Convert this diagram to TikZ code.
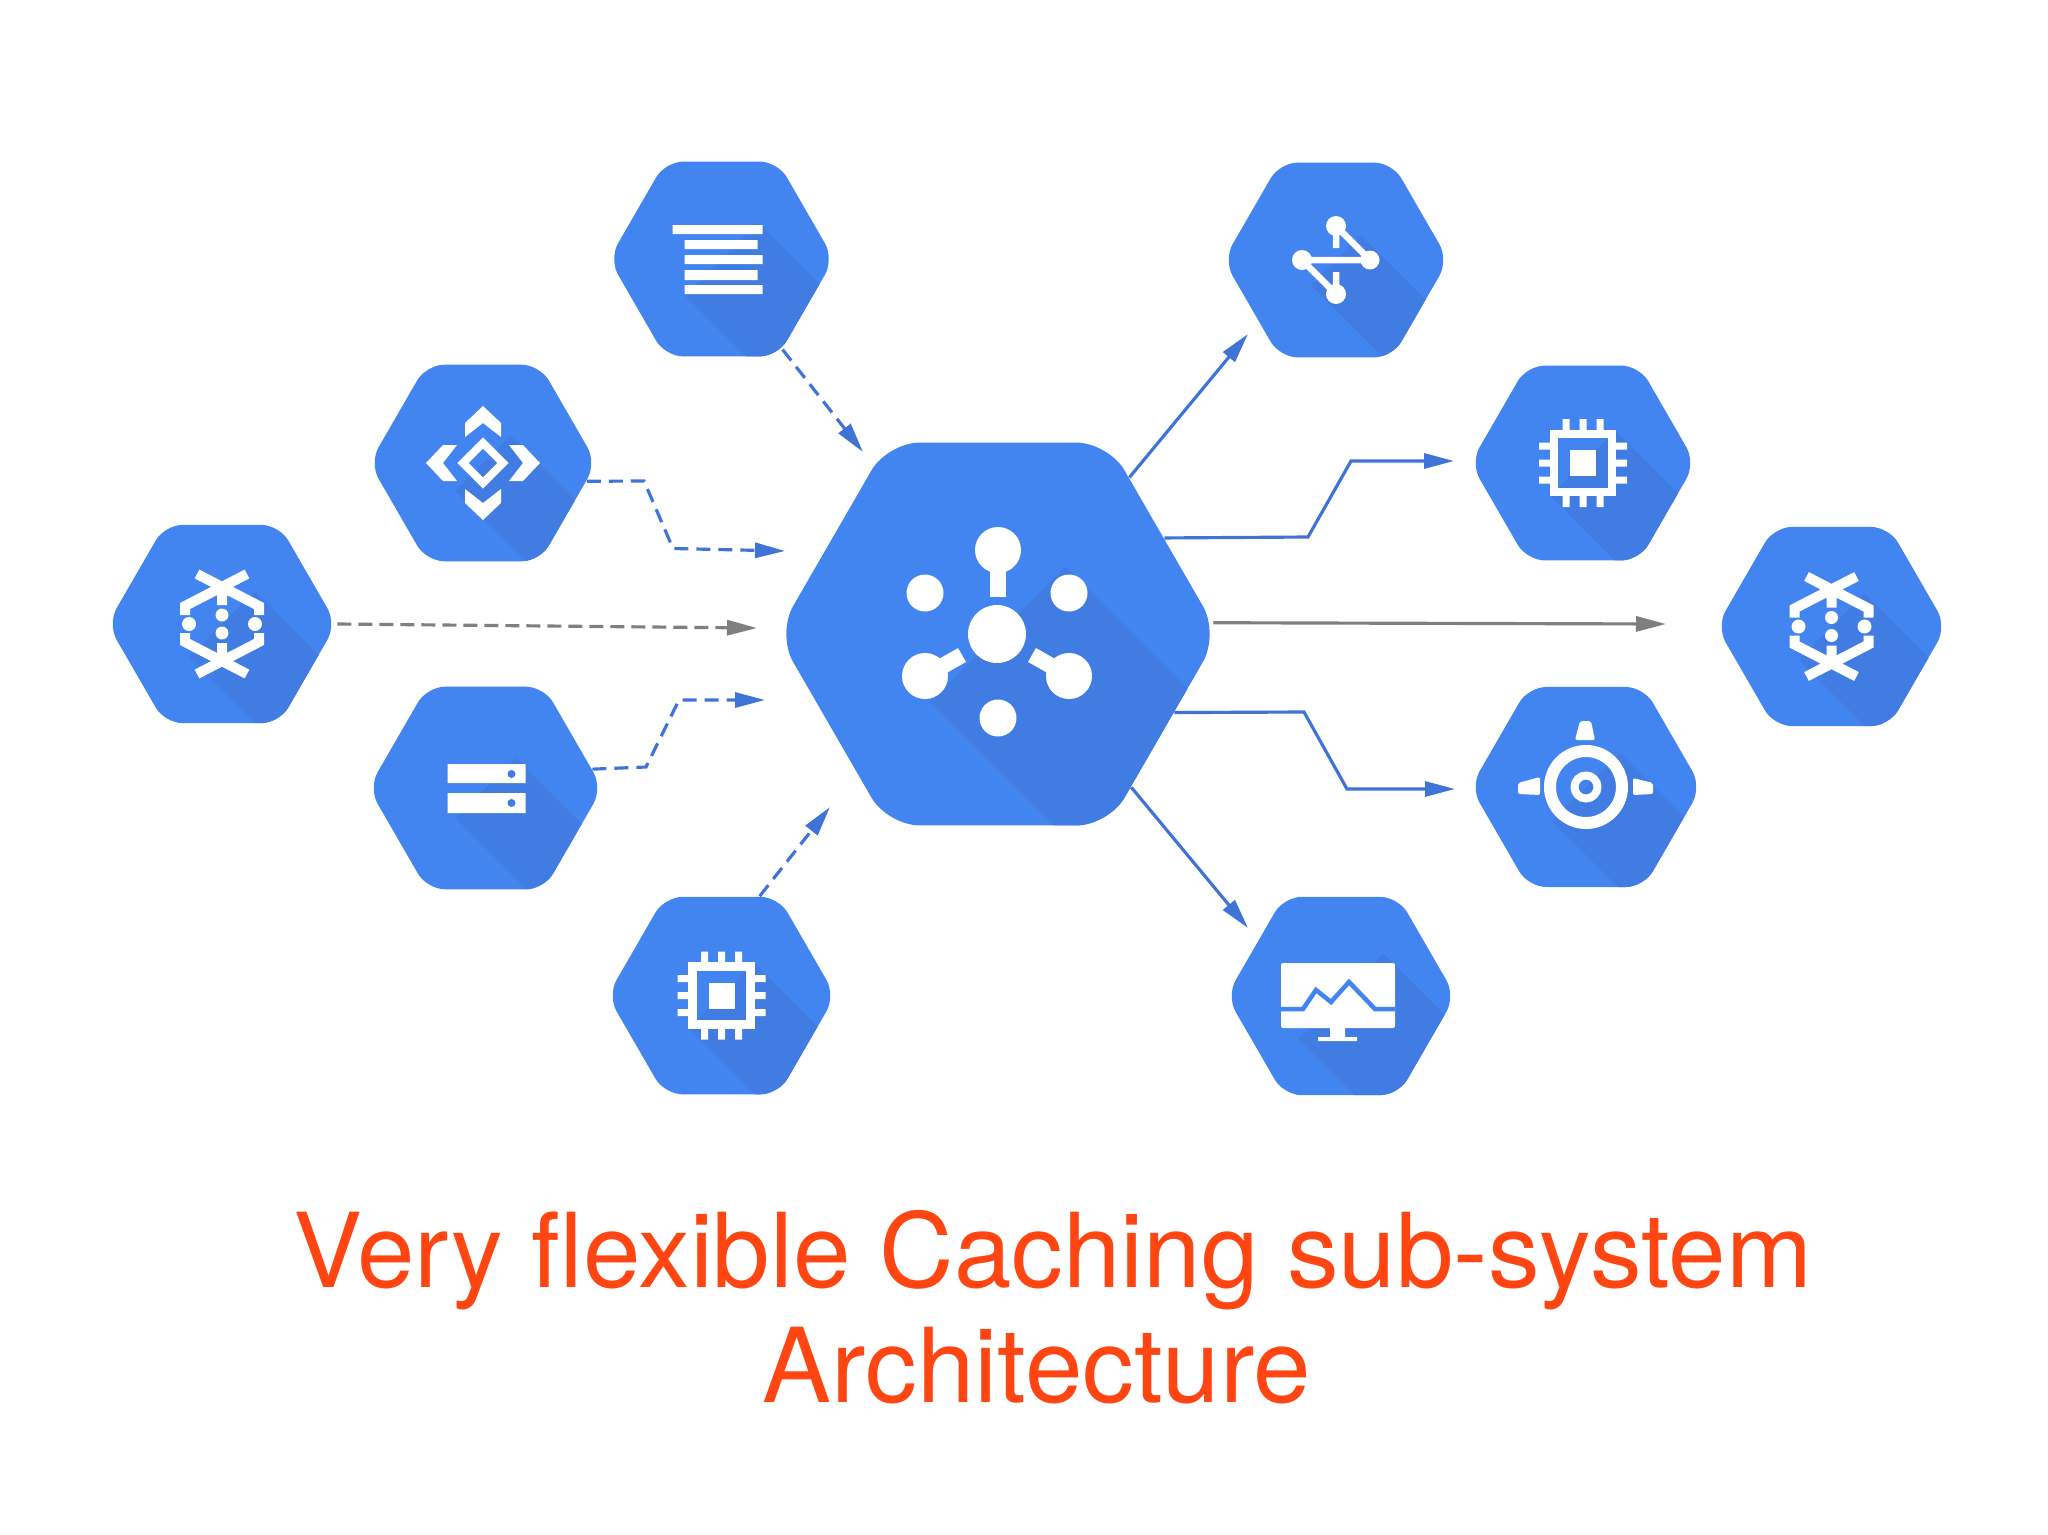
\documentclass[tikz,border=0pt]{standalone}
\usepackage{fontspec}
\setmainfont{TeX Gyre Heros}
\usepackage{xcolor}
\usetikzlibrary{arrows.meta, positioning, shapes.geometric}
\definecolor{hexblue}{HTML}{4285F0}
\definecolor{hexdark}{HTML}{407CE2}
\definecolor{flowblue}{HTML}{3F74D6}
\definecolor{flowgrey}{HTML}{7F7F7F}
\definecolor{capred}{HTML}{FF4511}

\tikzset{
    hexnode/.style 2 args={regular polygon, regular polygon sides=6, minimum size=#1,
        inner sep=0pt, fill=hexblue, rounded corners=.18cm,
        path picture={\fill[hexdark, sharp corners, shift={(path picture bounding box.center)}]
            ({#2/2},{#2/2}) -- ++(6,-6) -- ++(-#2,-#2) -- ++(-6,6) -- cycle;}},
    hubnode/.style={hexnode={4.42cm}{1.35}, rounded corners=.32cm},
    flow/.style={-{Triangle[length=.3cm,width=.15cm]}, line width=.9pt, flowblue},
    flowdash/.style={flow, dash pattern=on .14cm off .08cm},
    flowgray/.style={flow, flowgrey},
    caption/.style={text=capred, font=\fontsize{29.4}{33}\selectfont, anchor=base, inner sep=0pt},
    hubicon/.pic={
        \fill[white] (-.01,0) circle (.29) (0,.84) circle (.23) (-.73,.41) circle (.185)
            (.71,.41) circle (.185) (-.73,-.42) circle (.23) (.71,-.42) circle (.23) (0,-.84) circle (.185);
        \fill[white] (-.08,.37) rectangle (.08,.7);
        \draw[white, line width=.16cm] (-.73,-.42) -- (-.36,-.21) (.71,-.42) -- (.34,-.21);
    },
    rowsicon/.pic={
        \fill[white] (-.49,.34) rectangle (.41,.25) (-.37,.19) rectangle (.36,.10)
            (-.37,.04) rectangle (.41,-.05) (-.37,-.11) rectangle (.36,-.21) (-.37,-.26) rectangle (.41,-.35);
    },
    diamondicon/.pic={
        \draw[white, line width=.08cm] (.2,0) -- (0,.2) -- (-.2,0) -- (0,-.2) -- cycle;
        \foreach \a in {0,90,180,270}
            \fill[white, rotate=\a] (0,.57) -- (.18,.40) -- (.18,.26) -- (0,.40) -- (-.18,.26) -- (-.18,.40) -- cycle;
    },
    dataicon/.pic={
        \foreach \s in {1,-1} {
            \draw[white, line width=.1cm, yscale=\s] (-.25,.50) -- (.37,.18) -- (.37,.09)
                (.25,.50) -- (-.37,.18) -- (-.37,.09) (0,.37) -- (0,.19);
            \fill[white] (0,.09*\s) circle (.065);
        }
        \fill[white] (-.33,0) circle (.07) (.33,0) circle (.07);
    },
    rackicon/.pic={
        \fill[white] (-.38,.24) rectangle (.40,.05) (-.38,-.05) rectangle (.40,-.25);
        \fill[hexdark] (.26,.14) circle (.04) (.26,-.15) circle (.04);
    },
    chipicon/.pic={
        \foreach \a in {0,90,180,270} {
            \fill[white, rotate=\a] (-.205,.3) rectangle (-.135,.44) (-.035,.3) rectangle (.035,.44)
                (.135,.3) rectangle (.205,.44);
        }
        \draw[white, line width=.085cm] (-.29,-.29) rectangle (.29,.29);
        \fill[white] (-.13,-.13) rectangle (.13,.13);
    },
    meshicon/.pic={
        \draw[white, line width=.065cm] (-.34,0) -- (.34,0) -- (0,.34) -- (0,.12)
            (-.34,0) -- (0,-.34) -- (0,-.12);
        \fill[white] (0,.34) circle (.10) (-.34,0) circle (.10) (.34,0) circle (.095) (0,-.34) circle (.10);
    },
    engineicon/.pic={
        \draw[white, line width=.12cm] (0,0) circle (.36);
        \draw[white, line width=.08cm] (0,0) circle (.115);
        \fill[white, rounded corners=.02cm] (-.11,.47) -- (.09,.47) -- (.05,.66) -- (-.06,.66) -- cycle
            (-.46,.10) -- (-.46,-.08) -- (-.68,-.07) -- (-.68,.04) -- cycle
            (.47,.09) -- (.47,-.08) -- (.67,-.07) -- (.67,.04) -- cycle;
    },
    screenicon/.pic={
        \fill[white, rounded corners=.02cm] (-.60,.33) rectangle (.54,-.32);
        \draw[hexblue, line width=.045cm] (-.60,-.13) -- (-.38,-.13) -- (-.25,.06) -- (-.10,-.06)
            -- (.08,.14) -- (.34,-.13) -- (.54,-.13);
        \fill[white] (-.11,-.32) rectangle (.04,-.41) (-.23,-.41) rectangle (.16,-.45);
    },
}

\begin{document}
\begin{tikzpicture}[on grid, >=Stealth]
        \useasboundingbox (0,0) rectangle (20.48,-15.35);

        \node[hubnode]                  (hub)     at (9.98,-6.34)                       {};
        \node[hexnode={2.25cm}{.73}]    (rows)    [above left=3.75cm and 2.765cm of hub]   {};
        \node[hexnode={2.27cm}{.55}]    (diamond) [above left=1.71cm and 5.15cm of hub]    {};
        \node[hexnode={2.29cm}{.66}]    (dataL)   [above left=.10cm and 7.76cm of hub]     {};
        \node[hexnode={2.34cm}{.60}]    (rack)    [below left=1.54cm and 5.125cm of hub]   {};
        \node[hexnode={2.28cm}{.65}]    (chipL)   [below left=3.616cm and 2.765cm of hub]  {};
        \node[hexnode={2.25cm}{.50}]    (mesh)    [above right=3.74cm and 3.38cm of hub]   {};
        \node[hexnode={2.25cm}{.65}]    (chipR)   [above right=1.71cm and 5.85cm of hub]   {};
        \node[hexnode={2.30cm}{.66}]    (dataR)   [above right=.075cm and 8.335cm of hub]  {};
        \node[hexnode={2.31cm}{.68}]    (engine)  [below right=1.53cm and 5.88cm of hub]   {};
        \node[hexnode={2.29cm}{.85}]    (screen)  [below right=3.62cm and 3.43cm of hub]   {};

        % glyphs
        \pic at (hub)     {hubicon};
        \pic at (rows)    {rowsicon};
        \pic at (diamond) {diamondicon};
        \pic at (dataL)   {dataicon};
        \pic at (rack)    {rackicon};
        \pic at (chipL)   {chipicon};
        \pic at (mesh)    {meshicon};
        \pic at (chipR)   {chipicon};
        \pic at (dataR)   {dataicon};
        \pic at (engine)  {engineicon};
        \pic at (screen)  {screenicon};

        % free ends of the connectors
        \coordinate (in_rows)    at (8.63,-4.52);
        \coordinate (in_diamond) at (7.85,-5.51);
        \coordinate (in_data)    at (7.57,-6.28);
        \coordinate (in_rack)    at (7.65,-7.00);
        \coordinate (in_chip)    at (8.30,-8.07);
        \coordinate (out_mesh)   at (12.48,-3.34);
        \coordinate (out_chip)   at (14.54,-4.61);
        \coordinate (out_data)   at (16.66,-6.24);
        \coordinate (out_engine) at (14.55,-7.89);
        \coordinate (out_screen) at (12.48,-9.28);

        \draw[flowdash] (rows.-56) -- (in_rows);
        \draw[flowdash] (diamond.-10.5) -- (6.44,-4.81) -- (6.73,-5.485) -- (in_diamond);
        \draw[flowgray, dash pattern=on .14cm off .07cm] (dataL.0) -- (in_data);
        \draw[flowdash] (rack.10) -- (6.46,-7.67) -- (6.79,-7.00) -- (in_rack);
        \draw[flowdash] (chipL.69) -- (in_chip);

        \draw[flow] (hub.50) -- (out_mesh);
        \draw[flow] (hub.30.6) -- (13.08,-5.37) -- (13.51,-4.61) -- (out_chip);
        \draw[flowgray] (hub.3.5) -- (out_data);
        \draw[flow] (hub.-24.4) -- (13.04,-7.12) -- (13.47,-7.89) -- (out_engine);
        \draw[flow] (hub.-49) -- (out_screen);

        \node[caption] (line_one) at (10.53,-12.87) {Very flexible Caching sub-system};
        \node[caption] (line_two) at (10.37,-14.02) {Architecture};
    \end{tikzpicture}
\end{document}
